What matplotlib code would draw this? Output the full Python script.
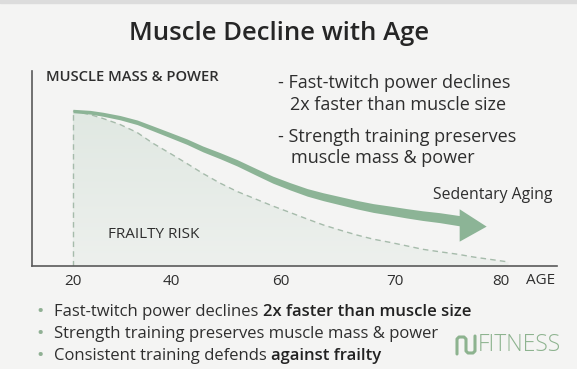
import matplotlib
matplotlib.use('Agg')
import matplotlib.pyplot as plt
import numpy as np
from matplotlib.patches import Polygon, Rectangle
from matplotlib.lines import Line2D
from matplotlib.colors import LinearSegmentedColormap

plt.rcParams['font.family'] = ['Open Sans', 'DejaVu Sans']

# ---------------- data ----------------
TICK_AGES = [20, 40, 60, 70, 80]
TICK_LABELS = ['20', '40', '60', '70', '80']

# green tapered arrow (sedentary aging curve)
POWER_AGES = [20, 23.5, 26.1, 29.6, 33.1, 36.3, 39.8, 42.9, 45.8, 48.9, 52.0, 55.6,
              58.5, 60.8, 62.3, 63.7, 65.2, 66.7, 68.1, 69.6, 71.1, 72.6, 74.2, 76.1]
POWER_VALUES = [100, 99.2, 97.9, 95.7, 92.7, 88.8, 84.5, 80.2, 75.5, 71.2, 66.6, 60.5,
                55.7, 51.4, 47.5, 44.7, 42.1, 39.5, 37.4, 35.7, 34.0, 32.5, 31.2, 29.2]

# dashed curve bounding the frailty-risk area
FRAILTY_AGES = [20, 23.5, 26.1, 29.6, 33.1, 36.3, 39.8, 42.9, 45.8, 48.9, 52.0, 55.6,
                58.5, 60.8, 62.3, 63.7, 65.2, 66.7, 68.1, 69.6, 71.1, 72.6, 74.2, 75.9, 77.4, 80.7]
FRAILTY_VALUES = [100, 97.7, 95.2, 91.3, 86.1, 79.2, 72.7, 66.1, 59.7, 53.5, 48.1, 42.9,
                  38.7, 34.5, 30.3, 26.5, 23.1, 19.9, 17.3, 15.2, 13.0, 10.8, 9.2, 7.6, 5.8, 2.6]

# ---------------- layout / style ----------------
W, H = 577, 369
# where each tick age sits along the axis (tick-slot units, uneven spacing)
TICK_SLOTS = [0.0, 0.916, 1.944, 3.009, 4.0]
BG = '#f4f4f3'
GREEN = '#8cb496'
DASH = '#a6bbab'
TXT = '#2e2e2e'
HEAD_LEN = 0.252              # in tick-slot units
HEAD_TOP, HEAD_BOT, HEAD_TIP = 7.4, -13.5, -3.8   # offsets from shaft end (value units)


def fx(px):
    return px / W


def fy(py):
    return 1 - py / H


def _pw(a, xs, ys):
    a = np.asarray(a, float)
    out = np.interp(a, xs, ys)
    out = np.where(a < xs[0], ys[0] + (a - xs[0]) * (ys[1] - ys[0]) / (xs[1] - xs[0]), out)
    out = np.where(a > xs[-1], ys[-1] + (a - xs[-1]) * (ys[-1] - ys[-2]) / (xs[-1] - xs[-2]), out)
    return out


def fwd(a):
    return _pw(a, TICK_AGES, TICK_SLOTS)


def inv(s):
    return _pw(s, TICK_SLOTS, TICK_AGES)


fig = plt.figure(figsize=(W / 100, H / 100), dpi=100, facecolor=BG)

# thin card shading at top
fig.patches.append(Rectangle((0, fy(3)), 1, fy(0) - fy(3), transform=fig.transFigure,
                             color='#dcdcdc', zorder=0))

ax = fig.add_axes([fx(32), fy(266), (557 - 32) / W, (266 - 71) / H])
ax.set_facecolor('none')
ax.set_xscale('function', functions=(fwd, inv))
xlim = (float(inv(-0.383)), float(inv(4.523)))
ax.set_xlim(*xlim)
ax.set_ylim(0, 125.8)

for s in ['top', 'right']:
    ax.spines[s].set_visible(False)
for s in ['left', 'bottom']:
    ax.spines[s].set_color('#5a5a5a')
    ax.spines[s].set_linewidth(1.2)
ax.set_yticks([])
ax.set_xticks(TICK_AGES)
ax.set_xticklabels(TICK_LABELS)
ax.xaxis.set_minor_locator(matplotlib.ticker.NullLocator())
ax.tick_params(axis='x', length=0, pad=6, labelsize=11, labelcolor=TXT)

# frailty area with soft vertical gradient
fill = ax.fill_between(FRAILTY_AGES, 0, FRAILTY_VALUES, color='none', lw=0, zorder=1)
grad_cmap = LinearSegmentedColormap.from_list('g', ['#edf0ed', '#e0e8e2'])
grad = np.linspace(0, 1, 256).reshape(-1, 1)
im = ax.imshow(grad, cmap=grad_cmap, aspect='auto', origin='lower',
               extent=[xlim[0], xlim[1], 0, max(FRAILTY_VALUES)], zorder=1)
im.set_clip_path(fill.get_paths()[0], transform=ax.transData)
ax.set_xlim(*xlim)
ax.set_ylim(0, 125.8)
ax.plot(FRAILTY_AGES, FRAILTY_VALUES, ls=(0, (4, 3)), color=DASH, lw=1.0, zorder=2)
ax.vlines(FRAILTY_AGES[0], 0, FRAILTY_VALUES[0], colors=DASH, linestyles=(0, (4, 3)), lw=1.0, zorder=2)

# tapered arrow shaft
pv = np.asarray(POWER_VALUES, float)
hw = np.linspace(1.1, 3.3, len(POWER_AGES))
ax.fill_between(POWER_AGES, pv - hw, pv + hw, color=GREEN, lw=0, zorder=3)
# arrow head
base_a, base_v = POWER_AGES[-1], POWER_VALUES[-1]
tip_a = float(inv(fwd(base_a) + HEAD_LEN))
head = Polygon([(base_a, base_v + HEAD_TOP), (tip_a, base_v + HEAD_TIP), (base_a, base_v + HEAD_BOT)],
               closed=True, color=GREEN, lw=0, zorder=3)
ax.add_patch(head)

# ---------------- texts ----------------
fig.text(fx(279), fy(34), 'Muscle Decline with Age', ha='center', va='center',
         fontsize=18.5, weight='semibold', color='#262626')
fig.text(fx(46), fy(77), 'MUSCLE MASS & POWER', ha='left', va='center',
         fontsize=10.6, weight='semibold', color=TXT)
fig.text(fx(278), fy(83), '- Fast-twitch power declines', ha='left', va='center', fontsize=13, color=TXT)
fig.text(fx(290), fy(105), '2x faster than muscle size', ha='left', va='center', fontsize=13, color=TXT)
fig.text(fx(278), fy(137), '- Strength training preserves', ha='left', va='center', fontsize=13, color=TXT)
fig.text(fx(291), fy(158), 'muscle mass & power', ha='left', va='center', fontsize=13, color=TXT)
fig.text(fx(433), fy(195), 'Sedentary Aging', ha='left', va='center', fontsize=11.3, color=TXT)
fig.text(fx(108), fy(235), 'FRAILTY RISK', ha='left', va='center', fontsize=11, color=TXT, weight='medium')
fig.text(fx(541), fy(281), 'AGE', ha='center', va='center', fontsize=11, color=TXT)

# bullets
bullets = [
    ('Fast-twitch power declines ', '2x faster than muscle size'),
    ('Strength training preserves muscle mass & power', ''),
    ('Consistent training defends ', 'against frailty'),
]
bullet_y = [312, 334, 356]
renderer = fig.canvas.get_renderer()
for (reg, bold), y in zip(bullets, bullet_y):
    fig.text(fx(40), fy(y), '•', ha='center', va='center', fontsize=14, color='#8fb093')
    t = fig.text(fx(54), fy(y), reg, ha='left', va='center', fontsize=12, color=TXT)
    if bold:
        bb = t.get_window_extent(renderer)
        fig.text(bb.x1 / W, fy(y), bold, ha='left', va='center', fontsize=12,
                 weight='semibold', color='#222222')

# logo
LOGO = '#8db38f'
fig.text(fx(478), fy(345), 'FITNESS', ha='left', va='center', fontsize=16.5, color=LOGO, weight='light')
icon_x = [fx(457), fx(457), fx(459), fx(464), fx(466), fx(466), fx(468), fx(473), fx(475), fx(475)]
icon_y = [fy(354), fy(339), fy(337), fy(337), fy(339), fy(351), fy(353), fy(353), fy(351), fy(336)]
fig.lines.append(Line2D(icon_x, icon_y, transform=fig.transFigure, color=LOGO, lw=2.2,
                        solid_joinstyle='round', solid_capstyle='round'))

fig.savefig('out.png', dpi=100, facecolor=BG)
